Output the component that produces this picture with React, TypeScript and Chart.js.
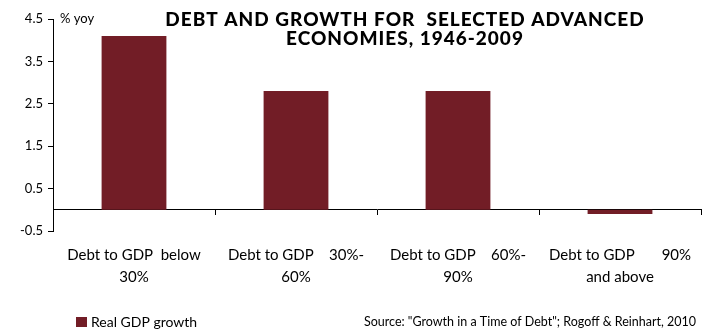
import React, { useEffect, useRef } from "react";
import { Chart, registerables } from "chart.js";

Chart.register(...registerables);

const categories: string[][] = [
  ["Debt to GDP  below", "30%"],
  ["Debt to GDP    30%-", "60%"],
  ["Debt to GDP    60%-", "90%"],
  ["Debt to GDP       90%", "and above"],
];
const growth: number[] = [4.1, 2.8, 2.8, -0.1];
const seriesLabel = "Real GDP growth";
const titleLines: string[] = ["DEBT AND GROWTH FOR  SELECTED ADVANCED", "ECONOMIES, 1946-2009"];
const unitLabel = "% yoy";
const sourceText = 'Source: "Growth in a Time of Debt"; Rogoff & Reinhart, 2010';
const yMin = -0.5;
const yMax = 4.5;

const BAR = "#721D26";
const FONT = "Lato, 'Open Sans', sans-serif";

const textPlugin = {
  id: "extraText",
  afterDraw(chart: any) {
    const ctx = chart.ctx;
    ctx.save();
    ctx.fillStyle = "#000";
    ctx.textBaseline = "middle";
    // title
    ctx.font = `900 19px ${FONT}`;
    ctx.textAlign = "center";
    try {
      (ctx as any).letterSpacing = "1px";
    } catch (e) {}
    ctx.fillText(titleLines[0], 405, 20);
    ctx.fillText(titleLines[1], 405, 39);
    try {
      (ctx as any).letterSpacing = "0px";
    } catch (e) {}
    // unit
    ctx.font = `13px ${FONT}`;
    ctx.textAlign = "left";
    ctx.fillText(unitLabel, 60, 19);
    // legend
    ctx.fillStyle = BAR;
    ctx.fillRect(76, 317, 11, 10);
    ctx.fillStyle = "#000";
    ctx.font = `14px ${FONT}`;
    ctx.fillText(chart.data.datasets[0].label, 91, 322);
    // source
    ctx.font = `12.5px ${FONT}`;
    ctx.textAlign = "right";
    ctx.fillText(sourceText, 696, 322);
    ctx.restore();
  },
};

export default function App() {
  const ref = useRef<HTMLCanvasElement | null>(null);
  useEffect(() => {
    document.body.style.margin = "0";
    const canvas = ref.current!;
    const chart = new Chart(canvas, {
      type: "bar",
      data: {
        labels: categories,
        datasets: [
          {
            label: seriesLabel,
            data: growth,
            backgroundColor: BAR,
            borderWidth: 0,
            barPercentage: 0.4,
            categoryPercentage: 1,
            xAxisID: "x",
            yAxisID: "y",
          },
        ],
      },
      options: {
        responsive: false,
        animation: false,
        layout: { padding: { top: 19, right: 11, left: 0, bottom: 0 } },
        plugins: { legend: { display: false }, title: { display: false }, tooltip: { enabled: false } },
        scales: {
          y: {
            min: yMin,
            max: yMax,
            ticks: {
              stepSize: 1,
              color: "#000",
              padding: 5,
              font: { family: FONT, size: 13 },
              callback: (v: any) => Number(v).toFixed(1),
            },
            grid: { drawOnChartArea: false, drawTicks: true, tickLength: 5, color: "#000" },
            border: { display: true, color: "#000", width: 1 },
            afterFit: (s: any) => {
              s.width = 53;
            },
          },
          x: {
            type: "category",
            position: { y: 0 } as any,
            offset: true,
            ticks: { display: false },
            grid: { offset: true, drawOnChartArea: false, drawTicks: true, tickLength: 5, color: "#000" },
            border: { display: true, color: "#000", width: 1 },
          },
          x2: {
            type: "category",
            position: "bottom",
            labels: categories as any,
            offset: true,
            grid: { display: false, drawTicks: false },
            border: { display: false },
            ticks: {
              color: "#000",
              padding: 13,
              maxRotation: 0,
              autoSkip: false,
              font: { family: FONT, size: 15, lineHeight: 22 / 15 },
            },
            afterFit: (s: any) => {
              s.height = 102;
            },
          },
        },
      },
      plugins: [textPlugin],
    });
    return () => chart.destroy();
  }, []);
  return (
    <div style={{ width: 712, height: 333, background: "#fff" }}>
      <canvas ref={ref} width={712} height={333} style={{ width: 712, height: 333, display: "block" }} />
    </div>
  );
}
